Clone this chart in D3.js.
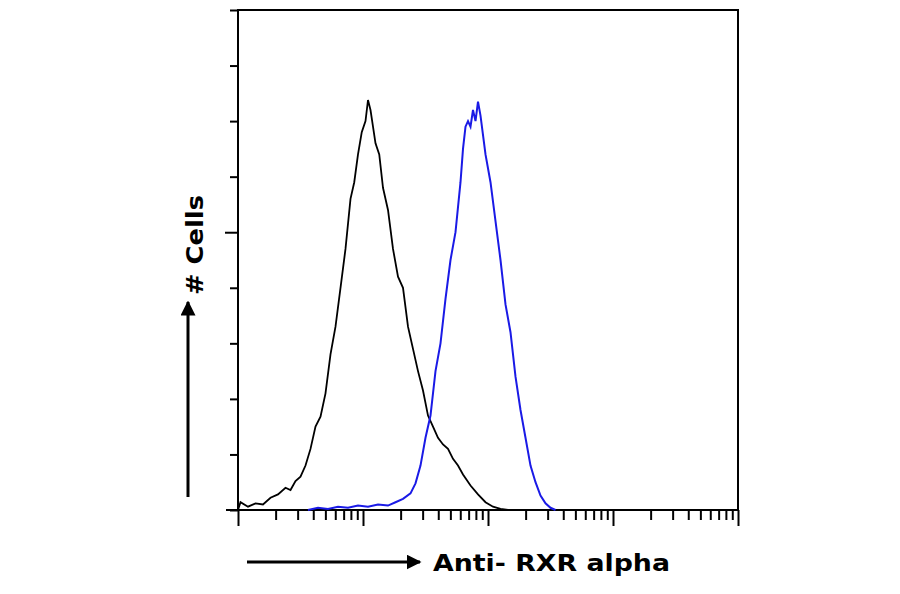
<!DOCTYPE html>
<html>
<head>
<meta charset="UTF-8">
<script src="https://d3js.org/d3.v7.min.js"></script>
<style>
  body { margin: 0; background: #fff; font-family: "DejaVu Sans", Verdana, sans-serif; }
</style>
</head>
<body>
<svg id="chart"></svg>
<script>
// x values are log10 of intensity (0..4 decades), y values are cell counts
const controlX = [0.0, 0.02, 0.08, 0.14, 0.2, 0.26, 0.32, 0.38, 0.42, 0.46, 0.5, 0.54, 0.58, 0.62, 0.66, 0.7, 0.74, 0.78, 0.82, 0.86, 0.9, 0.93, 0.96, 0.99, 1.02, 1.04, 1.06, 1.08, 1.1, 1.13, 1.16, 1.2, 1.24, 1.28, 1.32, 1.36, 1.4, 1.44, 1.48, 1.52, 1.56, 1.6, 1.64, 1.68, 1.72, 1.76, 1.8, 1.86, 1.92, 1.98, 2.04, 2.1, 2.16];
const controlY = [0, 14, 6, 12, 10, 22, 28, 40, 36, 52, 60, 80, 110, 150, 168, 210, 280, 330, 400, 470, 560, 590, 640, 680, 700, 738, 720, 690, 660, 640, 580, 540, 470, 420, 400, 330, 290, 250, 215, 170, 150, 130, 118, 110, 92, 80, 64, 44, 28, 14, 6, 2, 0];
const stainX = [0.56, 0.64, 0.72, 0.8, 0.88, 0.96, 1.04, 1.12, 1.2, 1.26, 1.32, 1.38, 1.42, 1.46, 1.5, 1.54, 1.58, 1.62, 1.66, 1.7, 1.74, 1.78, 1.8, 1.82, 1.84, 1.86, 1.88, 1.9, 1.92, 1.94, 1.98, 2.02, 2.06, 2.1, 2.14, 2.18, 2.22, 2.26, 2.3, 2.34, 2.38, 2.42, 2.46, 2.5, 2.54];
const stainY = [0, 4, 2, 6, 4, 8, 6, 10, 8, 14, 20, 30, 48, 80, 130, 170, 250, 300, 380, 450, 500, 590, 650, 690, 700, 690, 720, 700, 735, 710, 640, 590, 520, 450, 370, 320, 240, 180, 130, 80, 50, 26, 12, 4, 0];
const yTicks = [0, 100, 200, 300, 400, 500, 600, 700, 800, 900];
const decades = [0, 1, 2, 3, 4];

const width = 900, height = 594;
const svg = d3.select("#chart").attr("width", width).attr("height", height);

const x = d3.scaleLinear().domain([0, 4]).range([238, 738]);
const y = d3.scaleLinear().domain([0, 900]).range([510, 10]);

// frame
svg.append("rect")
   .attr("x", 238).attr("y", 10).attr("width", 500).attr("height", 500)
   .attr("fill", "none").attr("stroke", "#000").attr("stroke-width", 2);
svg.append("line").attr("x1", 226).attr("x2", 738).attr("y1", 510).attr("y2", 510)
   .attr("stroke", "#000").attr("stroke-width", 2);

// y ticks
const yAxis = d3.axisLeft(y).tickValues(yTicks).tickFormat("").tickSizeOuter(0)
   .tickSize(8);
svg.append("g").attr("transform", "translate(238,0)").call(yAxis)
   .call(g => g.select(".domain").remove())
   .call(g => g.selectAll("line").attr("stroke-width", 2)
      .attr("x2", d => d === 500 ? -13 : -8));

// x ticks, log decades
const minor = [];
decades.slice(0, 4).forEach(d => { for (let k = 2; k <= 9; k++) minor.push(d + Math.log10(k)); });
const xAxis = d3.axisBottom(x).tickValues(decades.concat(minor)).tickFormat("").tickSizeOuter(0);
svg.append("g").attr("transform", "translate(0,510)").call(xAxis)
   .call(g => g.select(".domain").remove())
   .call(g => g.selectAll("line").attr("stroke-width", 2)
      .attr("y2", d => decades.includes(d) ? 16 : 10));

const line = d3.line().x(d => x(d[0])).y(d => y(d[1])).curve(d3.curveLinear);
svg.append("path").datum(d3.zip(controlX, controlY)).attr("d", line)
   .attr("fill", "none").attr("stroke", "#000").attr("stroke-width", 1.8);
svg.append("path").datum(d3.zip(stainX, stainY)).attr("d", line)
   .attr("fill", "none").attr("stroke", "#1a1ae6").attr("stroke-width", 2);

// arrows and labels
const defs = svg.append("defs");
defs.append("marker").attr("id", "arr").attr("viewBox", "0 0 10 10")
   .attr("refX", 9).attr("refY", 5).attr("markerWidth", 5).attr("markerHeight", 5)
   .attr("orient", "auto")
   .append("path").attr("d", "M0,0 L10,5 L0,10 z").attr("fill", "#000");

svg.append("line").attr("x1", 247).attr("x2", 420).attr("y1", 562).attr("y2", 562)
   .attr("stroke", "#000").attr("stroke-width", 3).attr("marker-end", "url(#arr)");
svg.append("text").attr("x", 433).attr("y", 571).text("Anti- RXR alpha")
   .attr("font-size", 23).attr("font-weight", "bold")
   .attr("textLength", 237).attr("lengthAdjust", "spacingAndGlyphs");

svg.append("line").attr("x1", 188).attr("x2", 188).attr("y1", 497).attr("y2", 302)
   .attr("stroke", "#000").attr("stroke-width", 3).attr("marker-end", "url(#arr)");
svg.append("text").attr("transform", "translate(203,245) rotate(-90)")
   .attr("text-anchor", "middle").text("# Cells")
   .attr("font-size", 23).attr("font-weight", "bold")
   .attr("textLength", 100).attr("lengthAdjust", "spacingAndGlyphs");
</script>
</body>
</html>
